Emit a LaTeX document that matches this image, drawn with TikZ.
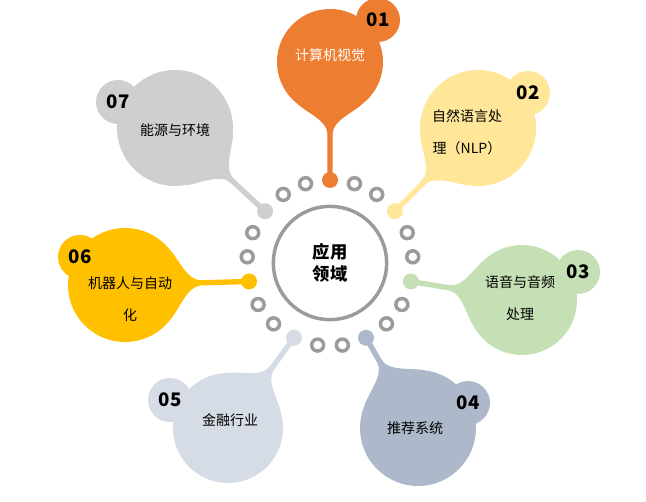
\documentclass[tikz,border=0pt]{standalone}
\usepackage{fontspec}
\setmainfont{Noto Sans CJK SC}
\usetikzlibrary{calc}
\definecolor{cOne}{HTML}{ED7D31}
\definecolor{cTwo}{HTML}{FFE699}
\definecolor{cThree}{HTML}{C5E0B4}
\definecolor{cFour}{HTML}{ADB9CA}
\definecolor{cFive}{HTML}{D6DCE5}
\definecolor{cSix}{HTML}{FFC000}
\definecolor{cSeven}{HTML}{D0CECE}
\definecolor{ringgray}{HTML}{9E9A98}
\tikzset{
  graydot/.style={circle, draw=ringgray, line width=2.6pt, fill=white, minimum size=9pt, inner sep=0pt},
  badge/.style={circle, minimum size=33pt, inner sep=0pt, font=\bfseries\fontsize{14}{14}\selectfont},
  petaltext/.style={font=\fontsize{10.5}{24}\selectfont, align=center}
}
% petal: #1 dot angle index, #2 bubble centre, #3 radius (px), #4 colour, #5 name
\newcommand\petal[5]{%
  \coordinate (#5dot) at ($(hub)+({#1*360/21-90}:83)$);
  \node[circle, fill=#4, minimum size={1.5*#3 pt}, inner sep=0pt] (#5) at #2 {};
  \path let \p1=($(#5)-(#5dot)$), \n1={atan2(\y1,\x1)}, \n2={veclen(\x1,\y1)} in
    [shift={(#5dot)}, rotate=\n1, fill=#4]
    (0pt,-2pt) -- ({\n2-0.75*#3*1pt-14pt},-2pt)
      .. controls ({\n2-0.75*#3*1pt-4pt},-2pt) and ({\n2-0.75*#3*0.8pt-6pt},{-0.75*#3*0.45pt}) .. ({\n2-0.75*#3*0.8pt},{-0.75*#3*0.6pt})
      -- ({\n2-0.75*#3*0.8pt},{0.75*#3*0.6pt})
      .. controls ({\n2-0.75*#3*0.8pt-6pt},{0.75*#3*0.45pt}) and ({\n2-0.75*#3*1pt-4pt},2pt) .. ({\n2-0.75*#3*1pt-14pt},2pt)
      -- (0pt,2pt) -- cycle;
  \node[circle, fill=#4, minimum size=12pt, inner sep=0pt] at (#5dot) {};
}
\begin{document}
\begin{tikzpicture}[x=0.75pt, y=-0.75pt]
  \useasboundingbox (0,0) rectangle (646,502);
  \coordinate (hub) at (330,263);
  % gray dots round the hub
  \foreach \k in {1,2,4,5,7,8,10,11,13,14,16,17,19,20}
    \node[graydot] at ($(hub)+({\k*360/21-90}:83)$) {};
  \node[circle, draw=ringgray, line width=2.6pt, minimum size=85pt, inner sep=0pt,
        font=\bfseries\fontsize{13}{17}\selectfont, align=center] (centre) at (hub) {应用\\领域};
  % petals
  \petal{0}{(330,62)}{53}{cOne}{vision}
  \petal{3}{(478,128)}{58}{cTwo}{nlp}
  \petal{6}{(522,300)}{55}{cThree}{speech}
  \petal{9}{(418,428)}{58}{cFour}{recom}
  \petal{12}{(228,428)}{55}{cFive}{finance}
  \petal{15}{(125,285)}{57}{cSix}{robot}
  \petal{18}{(175,128)}{58}{cSeven}{energy}
  % number badges
  \node[badge, fill=cOne] (b1) at (378,20) {01};
  \node[badge, fill=cTwo] (b2) at (528,93) {02};
  \node[badge, fill=cThree] (b3) at (578,272) {03};
  \node[badge, fill=cFour] (b4) at (468,403) {04};
  \node[badge, fill=cFive] (b5) at (170,400) {05};
  \node[badge, fill=cSix] (b6) at (80,257) {06};
  \node[badge, fill=cSeven] (b7) at (118,102) {07};
  % texts
  \node[petaltext, text=white] at (330,55) {计算机视觉};
  \node[petaltext] at (467,132) {自然语言处\\理（NLP）};
  \node[petaltext] at (520,298) {语音与音频\\处理};
  \node[petaltext] at (415,428) {推荐系统};
  \node[petaltext] at (230,420) {金融行业};
  \node[petaltext] at (130,299) {机器人与自动\\化};
  \node[petaltext] at (175,130) {能源与环境};
\end{tikzpicture}
\end{document}
